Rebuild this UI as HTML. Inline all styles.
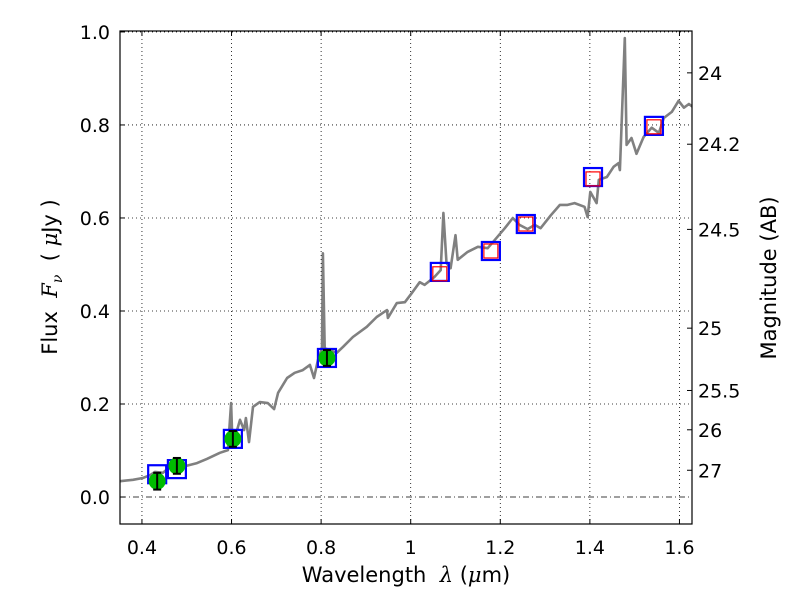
<!DOCTYPE html>
<html><head><meta charset="utf-8"><style>
html,body{margin:0;padding:0;background:#fff;}
svg{display:block;font-family:"DejaVu Sans","Liberation Sans",sans-serif;}
</style></head><body>
<svg id="chart" width="800" height="600" viewBox="0 0 800 600" xmlns="http://www.w3.org/2000/svg"></svg>
<script>
const specWave = [0.351,0.380,0.402,0.418,0.429,0.447,0.462,0.491,0.523,0.545,0.574,0.592,0.599,0.601,0.608,0.619,0.628,0.632,0.639,0.648,0.663,0.681,0.695,0.704,0.724,0.741,0.759,0.775,0.784,0.793,0.802,0.804,0.808,0.835,0.849,0.871,0.902,0.924,0.947,0.949,0.969,0.987,1.003,1.020,1.031,1.053,1.067,1.073,1.080,1.089,1.100,1.105,1.127,1.150,1.172,1.188,1.210,1.228,1.243,1.261,1.277,1.290,1.313,1.333,1.350,1.366,1.388,1.395,1.401,1.415,1.420,1.438,1.453,1.464,1.467,1.478,1.482,1.493,1.504,1.520,1.538,1.554,1.565,1.583,1.598,1.610,1.621,1.632,1.643];
const specFlux = [0.034,0.037,0.041,0.047,0.054,0.052,0.065,0.065,0.073,0.082,0.095,0.101,0.202,0.144,0.129,0.166,0.144,0.170,0.118,0.194,0.204,0.202,0.189,0.224,0.256,0.267,0.273,0.284,0.256,0.295,0.320,0.524,0.320,0.310,0.323,0.344,0.366,0.387,0.402,0.385,0.417,0.419,0.439,0.462,0.456,0.473,0.488,0.611,0.503,0.492,0.563,0.510,0.527,0.538,0.535,0.553,0.578,0.600,0.585,0.576,0.585,0.578,0.606,0.628,0.628,0.632,0.624,0.602,0.656,0.632,0.682,0.688,0.710,0.718,0.703,0.987,0.757,0.772,0.738,0.774,0.794,0.783,0.815,0.828,0.852,0.837,0.845,0.837,0.840];
const bandWave = [0.434,0.478,0.603,0.813,1.065,1.179,1.257,1.407,1.543];
const modelFlux = [0.049,0.060,0.125,0.299,0.484,0.529,0.587,0.688,0.798];
const obsWave = [0.434,0.478,0.603,0.813];
const obsFlux = [0.034,0.067,0.125,0.299];
const obsErr = [0.018,0.017,0.017,0.017];
const predWave = [1.065,1.179,1.257,1.407,1.543];
const predFlux = [0.480,0.529,0.587,0.684,0.796];
const xTicks = [0.4,0.6,0.8,1.0,1.2,1.4,1.6];
const xTickLabels = ["0.4","0.6","0.8","1","1.2","1.4","1.6"];
const yTicks = [0,0.2,0.4,0.6,0.8,1.0];
const yTickLabels = ["0.0","0.2","0.4","0.6","0.8","1.0"];
const magTicks = [24,24.2,24.5,25,25.5,26,27];
const magTickLabels = ["24","24.2","24.5","25","25.5","26","27"];

const L=120,R=692,T=31,B=524;
const xmin=0.351,xmax=1.628,ymin=-0.058,ymax=1.002;
const X=v=>L+(v-xmin)/(xmax-xmin)*(R-L);
const Y=v=>B-(v-ymin)/(ymax-ymin)*(B-T);
const NS="http://www.w3.org/2000/svg";
const svg=document.getElementById('chart');
function mk(tag,attrs,parent){const e=document.createElementNS(NS,tag);for(const k in attrs)e.setAttribute(k,attrs[k]);(parent||svg).appendChild(e);return e;}

const clip=mk('clipPath',{id:'pc'});mk('rect',{x:L,y:T,width:R-L,height:B-T},clip);

xTicks.forEach((t,i)=>{
  const g=mk('line',{x1:X(t),x2:X(t),y1:T,y2:B,stroke:'#000','stroke-width':0.8,'stroke-dasharray':'1,3'});
  
  
  mk('line',{x1:X(t),x2:X(t),y1:B,y2:B-5,stroke:'#000'});
  mk('line',{x1:X(t),x2:X(t),y1:T,y2:T+5,stroke:'#000'});
  const lb=mk('text',{x:X(t),y:B+30,'font-size':19,'text-anchor':'middle'});lb.textContent=xTickLabels[i];
  
  
});
yTicks.forEach((t,i)=>{
  if(t!==0){
  const g=mk('line',{x1:L,x2:R,y1:Y(t),y2:Y(t),stroke:'#000','stroke-width':0.8,'stroke-dasharray':'1,3'});
  
  }
  mk('line',{x1:L,x2:L+5,y1:Y(t),y2:Y(t),stroke:'#000'});
  const lb=mk('text',{x:L-10,y:Y(t)+7,'font-size':19,'text-anchor':'end'});lb.textContent=yTickLabels[i];
  
  
});
const zl=mk('line',{x1:L,x2:R,y1:Y(0),y2:Y(0),stroke:'#000','stroke-width':0.8,'stroke-dasharray':'6,3,1,3'});


magTicks.forEach((m,i)=>{
  const y=Y(Math.pow(10,(23.9-m)/2.5));
  mk('line',{x1:R,x2:R-5,y1:y,y2:y,stroke:'#000'});
  const lb=mk('text',{x:R+6,y:y+7,'font-size':19});lb.textContent=magTickLabels[i];
  
  
});

let d='';specWave.forEach((w,i)=>{d+=(i?'L':'M')+X(w).toFixed(1)+','+Y(specFlux[i]).toFixed(1);});
const sp=mk('path',{d:d,fill:'none',stroke:'#808080','stroke-width':2.6,'stroke-linejoin':'round','clip-path':'url(#pc)'});



bandWave.forEach((w,i)=>{
  const s=mk('rect',{x:X(w)-9,y:Y(modelFlux[i])-9,width:18,height:18,fill:'none',stroke:'#0000ff','stroke-width':2.2});
  
  
});
predWave.forEach((w,i)=>{
  const s=mk('rect',{x:X(w)-7,y:Y(predFlux[i])-7,width:14,height:14,fill:'none',stroke:'#ff0000','stroke-width':1.2});
  
  
});
obsWave.forEach((w,i)=>{
  const c=mk('circle',{cx:X(w),cy:Y(obsFlux[i]),r:8.5,fill:'#00bb00'});
  
  
  const x=X(w),y1=Y(obsFlux[i]-obsErr[i]),y2=Y(obsFlux[i]+obsErr[i]);
  mk('line',{x1:x,x2:x,y1:y1,y2:y2,stroke:'#000','stroke-width':2});
  mk('line',{x1:x-4,x2:x+4,y1:y1,y2:y1,stroke:'#000','stroke-width':2});
  mk('line',{x1:x-4,x2:x+4,y1:y2,y2:y2,stroke:'#000','stroke-width':2});
});

const fr=mk('rect',{x:L,y:T,width:R-L,height:B-T,fill:'none',stroke:'#000','stroke-width':1.2});


</script>
<div style="position:absolute;left:0;top:0;width:800px;height:600px;pointer-events:none;font-family:'DejaVu Sans','Liberation Sans',sans-serif;">
<div style="position:absolute;left:406px;top:575px;transform:translate(-50%,-50%);font-size:21px;white-space:nowrap;">Wavelength&nbsp; <span style="font-family:'DejaVu Serif','Liberation Serif',serif;font-style:italic;">λ</span> (<span style="font-family:'DejaVu Serif','Liberation Serif',serif;font-style:italic;">μ</span>m)</div>
<div style="position:absolute;left:52px;top:277px;transform:translate(-50%,-50%) rotate(-90deg);font-size:21px;white-space:nowrap;">Flux&nbsp; <span style="font-family:'DejaVu Serif','Liberation Serif',serif;font-style:italic;">F</span><sub style="font-family:'DejaVu Serif',serif;font-style:italic;font-size:14px;">ν</sub>&nbsp; ( <span style="font-family:'DejaVu Serif','Liberation Serif',serif;font-style:italic;">μ</span>Jy )</div>
<div style="position:absolute;left:769px;top:278px;transform:translate(-50%,-50%) rotate(-90deg);font-size:21px;white-space:nowrap;">Magnitude (AB)</div>
</div>
</body></html>
